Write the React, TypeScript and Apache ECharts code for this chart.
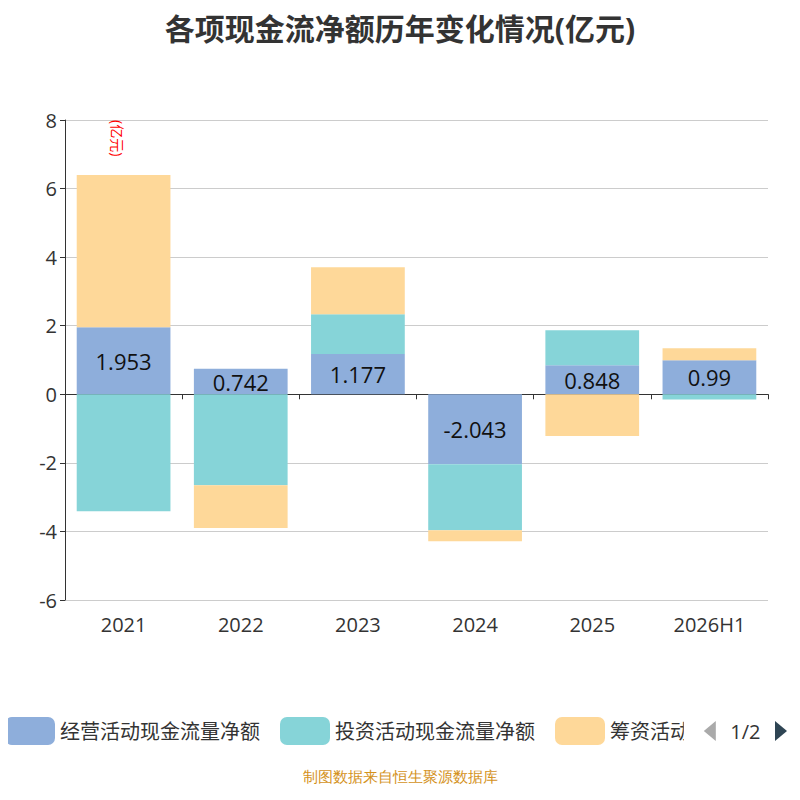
import React, { useEffect, useRef } from "react";
import * as echarts from "echarts";

const categories = ["2021", "2022", "2023", "2024", "2025", "2026H1"];
const operating = [1.953, 0.742, 1.177, -2.043, 0.848, 0.99];
const investing = [-3.41, -2.65, 1.16, -1.92, 1.02, -0.15];
const financing = [4.44, -1.25, 1.37, -0.32, -1.22, 0.35];
const seriesNames = ["经营活动现金流量净额", "投资活动现金流量净额", "筹资活动现金流量净额"];

export default function App() {
  const ref = useRef<HTMLDivElement>(null);
  useEffect(() => {
    const chart = echarts.init(ref.current!, null, { renderer: "svg" });
    const mk = (name: string, data: number[], color: string, label: boolean) => ({
      name, type: "bar", stack: "all", data, barWidth: "80%",
      itemStyle: { color },
      label: label ? { show: true, position: "inside", fontSize: 22, color: "#111" } : { show: false },
    });
    chart.setOption({
      animation: false,
      textStyle: { fontFamily: "Open Sans, Noto Sans CJK SC" },
      title: { text: "各项现金流净额历年变化情况(亿元)", left: "center", top: 0,
        textStyle: { fontSize: 30, fontWeight: "bold", color: "#333" } },
      grid: { left: 57, right: 24, top: 112, bottom: 192 },
      xAxis: { type: "category", data: categories,
        axisLine: { onZero: true, lineStyle: { color: "#333" } },
        axisTick: { show: true, lineStyle: { color: "#333" } },
        axisLabel: { fontSize: 20, color: "#333", margin: 14 } },
      yAxis: { type: "value", min: -6, max: 8, interval: 2,
        name: "(亿元)", nameLocation: "end", nameRotate: -90, nameGap: 0,
        nameTextStyle: { color: "red", fontSize: 14, align: "left", verticalAlign: "bottom", padding: [0, 0, 46, 0] },
        axisLine: { show: true, lineStyle: { color: "#333" } },
        axisTick: { show: true },
        axisLabel: { fontSize: 20, color: "#333" },
        splitLine: { lineStyle: { color: "#ccc" } } },
      legend: { type: "scroll", bottom: 42, left: -8, right: 0, itemWidth: 50, itemHeight: 28,
        itemGap: 20, textStyle: { fontSize: 20, color: "#333" },
        pageIconSize: 20, pageIconColor: "#2f4554", pageIconInactiveColor: "#aaa",
        pageTextStyle: { fontSize: 20, color: "#333" },
        data: seriesNames },
      graphic: [{ type: "text", left: "center", bottom: 8,
        style: { text: "制图数据来自恒生聚源数据库", fill: "#d4921c", fontSize: 15 } }],
      series: [
        mk(seriesNames[0], operating, "#8eaedb", true),
        mk(seriesNames[1], investing, "#86d4d8", false),
        mk(seriesNames[2], financing, "#fed899", false),
      ],
    });
    return () => chart.dispose();
  }, []);
  return <div ref={ref} style={{ width: 784, height: 784 }} />;
}
